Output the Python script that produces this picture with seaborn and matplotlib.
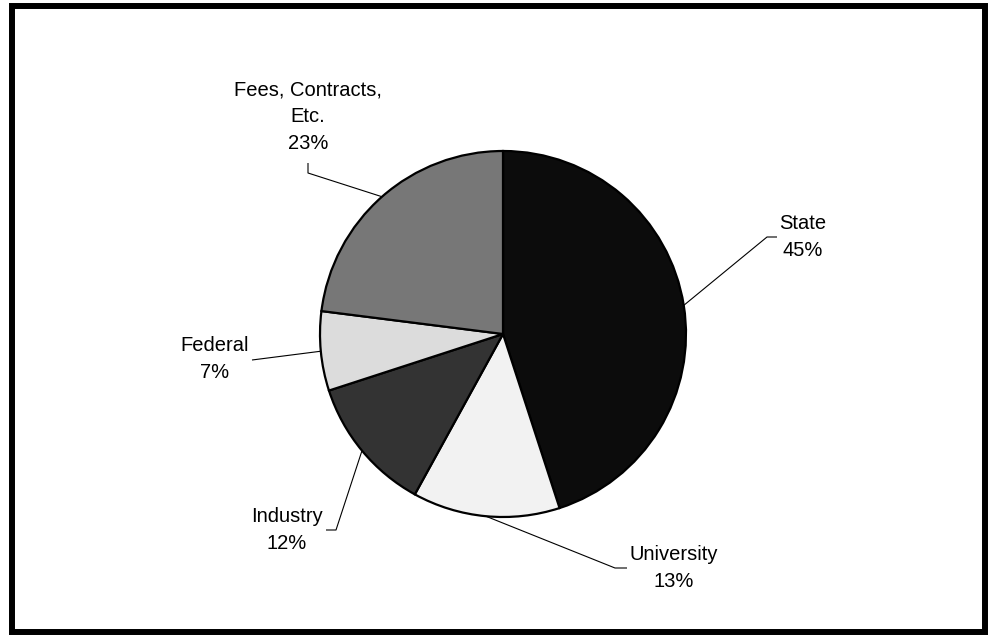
import numpy as np
import matplotlib
matplotlib.use("Agg")
import matplotlib.pyplot as plt
from matplotlib.patches import Rectangle
import seaborn as sns

# Funding sources, clockwise from 12 o'clock
sources = ["State", "University", "Industry", "Federal", "Fees, Contracts,\nEtc."]
shares = [45, 13, 12, 7, 23]
fills = ["#0c0c0c", "#f2f2f2", "#333333", "#dcdcdc", "#777777"]

sns.set_theme(style="white")
plt.rcParams["font.family"] = ["Liberation Sans", "DejaVu Sans"]

W, H = 988, 635
fig = plt.figure(figsize=(W / 100, H / 100), dpi=100)
ax = fig.add_axes([0, 0, 1, 1])
ax.set_xlim(0, W)
ax.set_ylim(0, H)
ax.set_aspect("equal")
ax.axis("off")


def Y(y):
    """Convert a top-down pixel row into the upward axis coordinate."""
    return H - y


cx, cy, R = 503, Y(334), 183
wedges, _ = ax.pie(shares, colors=fills, startangle=90, counterclock=False,
                   center=(cx, cy), radius=R,
                   wedgeprops=dict(edgecolor="black", linewidth=1.6))
ax.set_xlim(0, W)
ax.set_ylim(0, H)

# Leader line path after leaving the rim (elbow, end) and label centre, in pixel rows
layout = [
    ([(767, 237), (777, 237)], (803, 237)),
    ([(615, 568), (627, 568)], (674, 568)),
    ([(336, 530), (326, 530)], (287, 530)),
    ([(252, 360)], (215, 359)),
    ([(308, 173), (308, 163)], (308, 117)),
]

for w, name, val, (path, (tx, ty)) in zip(wedges, sources, shares, layout):
    mid = np.deg2rad((w.theta1 + w.theta2) / 2)
    sx, sy = cx + R * np.cos(mid), cy + R * np.sin(mid)
    xs = [sx] + [p[0] for p in path]
    ys = [sy] + [Y(p[1]) for p in path]
    ax.plot(xs, ys, color="black", linewidth=0.8, solid_capstyle="butt")
    ax.text(tx, Y(ty), f"{name}\n{val}%", ha="center", va="center",
            multialignment="center", fontsize=14.5, color="black",
            linespacing=1.5)

# Heavy frame around the whole chart
ax.add_patch(Rectangle((12, Y(632)), 973, 626.5, fill=False,
                       edgecolor="black", linewidth=4.3))

fig.savefig("out.png", dpi=100)
